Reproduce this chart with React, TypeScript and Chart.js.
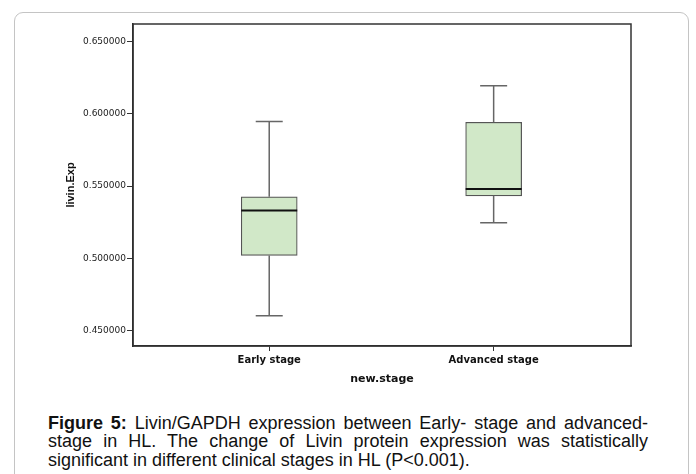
import React, { useEffect, useRef } from "react";
import { Chart, registerables } from "chart.js";

Chart.register(...registerables);

const categories = ["Early stage", "Advanced stage"];
const whiskerLow = [0.4604, 0.5246];
const quartile1 = [0.5021, 0.5433];
const medians = [0.5332, 0.5481];
const quartile3 = [0.5426, 0.5942];
const whiskerHigh = [0.5947, 0.6194];
const yTicks = [0.45, 0.5, 0.55, 0.6, 0.65];
const yMin = 0.4394;
const yMax = 0.6622;
const xMin = -0.607;
const xMax = 1.612;

const captionLines = [
  { bold: "Figure 5:", text: " Livin/GAPDH expression between Early- stage and advanced-" },
  { bold: "", text: "stage in HL. The change of Livin protein expression was statistically" },
  { bold: "", text: "significant in different clinical stages in HL (P<0.001)." },
];

const boxPlugin = {
  id: "boxExtras",
  afterDatasetsDraw(chart: any) {
    const ctx = chart.ctx;
    const xs = chart.scales.x;
    const ys = chart.scales.y;
    ctx.save();
    for (let i = 0; i < categories.length; i++) {
      const x = xs.getPixelForValue(i);
      const cap = 13.5;
      const half = 28;
      ctx.strokeStyle = "#666";
      ctx.lineWidth = 1.5;
      ctx.beginPath();
      ctx.moveTo(x, ys.getPixelForValue(quartile3[i]));
      ctx.lineTo(x, ys.getPixelForValue(whiskerHigh[i]));
      ctx.moveTo(x - cap, ys.getPixelForValue(whiskerHigh[i]));
      ctx.lineTo(x + cap, ys.getPixelForValue(whiskerHigh[i]));
      ctx.moveTo(x, ys.getPixelForValue(quartile1[i]));
      ctx.lineTo(x, ys.getPixelForValue(whiskerLow[i]));
      ctx.moveTo(x - cap, ys.getPixelForValue(whiskerLow[i]));
      ctx.lineTo(x + cap, ys.getPixelForValue(whiskerLow[i]));
      ctx.stroke();
      ctx.strokeStyle = "#111";
      ctx.lineWidth = 2;
      ctx.beginPath();
      const my = ys.getPixelForValue(medians[i]);
      ctx.moveTo(x - half, my);
      ctx.lineTo(x + half, my);
      ctx.stroke();
    }
    const a = chart.chartArea;
    ctx.strokeStyle = "#333";
    ctx.lineWidth = 1.5;
    ctx.strokeRect(a.left, a.top, a.right - a.left, a.bottom - a.top);
    ctx.restore();
  },
};

export default function App() {
  const ref = useRef<HTMLCanvasElement | null>(null);
  useEffect(() => {
    if (!ref.current) return;
    const chart = new Chart(ref.current, {
      type: "bar",
      data: {
        datasets: [
          {
            data: categories.map((_, i) => ({ x: i, y: [quartile1[i], quartile3[i]] })) as any,
            backgroundColor: "#d1e8c8",
            borderColor: "#555",
            borderWidth: 1.2,
            borderSkipped: false,
            barThickness: 56,
          },
        ],
      },
      options: {
        animation: false,
        responsive: false,
        layout: { padding: { left: 64, top: 24, right: 65, bottom: 14 } },
        plugins: { legend: { display: false }, tooltip: { enabled: false } },
        scales: {
          x: {
            type: "linear",
            min: xMin,
            max: xMax,
            offset: false,
            afterBuildTicks: (s: any) => {
              s.ticks = categories.map((_, i) => ({ value: i }));
            },
            afterFit: (s: any) => {
              s.height = 40;
            },
            ticks: {
              callback: (v: any) => categories[v as number] ?? "",
              font: { family: "DejaVu Sans", size: 10, weight: "bold" },
              color: "#111",
              padding: 3,
              maxRotation: 0,
            },
            grid: { offset: false, drawOnChartArea: false, drawTicks: true, tickLength: 5, color: "#333", lineWidth: 1 },
            border: { display: true, color: "#222", width: 1.5 },
            title: {
              display: true,
              text: "new.stage",
              font: { family: "DejaVu Sans", size: 11, weight: "bold" },
              color: "#111",
              padding: 0,
            },
          },
          y: {
            min: yMin,
            max: yMax,
            afterBuildTicks: (s: any) => {
              s.ticks = yTicks.map((v) => ({ value: v }));
            },
            afterFit: (s: any) => {
              s.width = 69;
            },
            ticks: {
              callback: (v: any) => Number(v).toFixed(6),
              font: { family: "DejaVu Sans", size: 9 },
              color: "#222",
              padding: 1,
            },
            grid: { drawOnChartArea: false, drawTicks: true, tickLength: 6, color: "#333", lineWidth: 1 },
            border: { display: true, color: "#222", width: 1.5 },
            title: {
              display: true,
              text: "livin.Exp",
              font: { family: "'Liberation Sans', Arial, sans-serif", size: 11, weight: "bold" },
              color: "#111",
              padding: 0,
            },
          },
        },
      },
      plugins: [boxPlugin],
    });
    return () => chart.destroy();
  }, []);

  return (
    <div
      style={{
        position: "fixed",
        left: 0,
        top: 0,
        width: 696,
        height: 474,
        overflow: "hidden",
        background: "#fff",
      }}
    >
      <div
        style={{
          position: "absolute",
          left: 14,
          top: 12,
          width: 675,
          height: 500,
          border: "1px solid #c4c4c4",
          borderRadius: 9,
          boxSizing: "border-box",
        }}
      />
      <canvas ref={ref} width={696} height={400} style={{ position: "absolute", left: 0, top: 0 }} />
      <div
        style={{
          position: "absolute",
          left: 48,
          top: 414,
          width: 600,
          fontFamily: "'Liberation Sans', Arial, sans-serif",
          fontSize: 18,
          lineHeight: "18.3px",
          color: "#111",
        }}
      >
        {captionLines.map((l, i) => (
          <div key={i} style={{ textAlign: "justify", textAlignLast: i < captionLines.length - 1 ? "justify" : "left", whiteSpace: "nowrap" }}>
            {l.bold && <b>{l.bold}</b>}
            {l.text}
          </div>
        ))}
      </div>
    </div>
  );
}
